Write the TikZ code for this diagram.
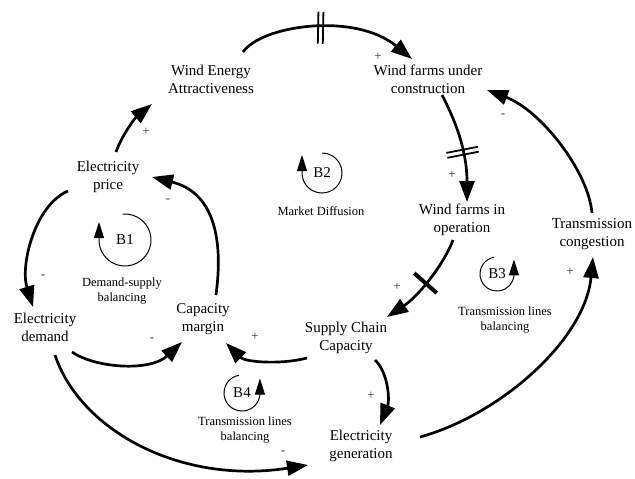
\documentclass[tikz,border=0pt]{standalone}
\usepackage{fontspec}
\setmainfont{Liberation Serif}
\usetikzlibrary{arrows.meta,calc,decorations.markings}

\begin{document}
\begin{tikzpicture}[x=1pt,y=-1pt,
    var/.style={align=center,inner sep=0pt,font=\fontsize{15}{18}\selectfont},
    note/.style={align=center,inner sep=0pt,font=\fontsize{12.5}{15}\selectfont},
    sign/.style={inner sep=0pt,text=black!80,font=\fontsize{13}{13}\selectfont},
    causal/.style={line width=2.7pt,-{Triangle[length=21pt,width=15pt]}},
    cyc/.style={line width=1pt,-{Triangle[length=16pt,width=10pt]}},
    delay/.style={postaction={decorate,decoration={markings,
      mark=at position #1 with {\draw[-,line width=1.8pt] (-2.5,-16) -- (-2.5,16) (2.5,-16) -- (2.5,16);}}}},
    gate/.style={postaction={decorate,decoration={markings,
      mark=at position #1 with {\draw[-,line width=4pt] (0,-15) -- (0,15);}}}}]
    \useasboundingbox (0,0) rectangle (635,479);

    \path (211,79)  node [var] (wea)  {Wind Energy\\Attractiveness};
    \path (428,79)  node [var] (wfuc) {Wind farms under\\construction};
    \path (462,220) node [var] (wfio) {Wind farms in\\operation};
    \path (592,234) node [var] (tc)   {Transmission\\congestion};
    \path (108,177) node [var] (ep)   {Electricity\\price};
    \path (45,327)  node [var] (ed)   {Electricity\\demand};
    \path (203,319) node [var] (cm)   {Capacity\\margin};
    \path (346,338) node [var] (scc)  {Supply Chain\\Capacity};
    \path (361,446) node [var] (eg)   {Electricity\\generation};

    \path (125,240) node [var] (b1) {B1};
    \path (322,173) node [var] (b2) {B2};
    \path (497,274) node [var] (b3) {B3};
    \path (242,393) node [var] (b4) {B4};
    \path (122,291) node [note] (n1) {Demand-supply\\balancing};
    \path (321,211) node [note] (n2) {Market Diffusion};
    \path (505,320) node [note] (n3) {Transmission lines\\balancing};
    \path (245,430) node [note] (n4) {Transmission lines\\balancing};

    \draw [cyc] ($(b1)+(265:26)$) arc [start angle=265,end angle=540,radius=26] -- ++(0,-18);
    \draw [cyc] ($(b2)+(270:20)$) arc [start angle=270,end angle=540,radius=20] -- ++(0,-18);
    \draw [cyc] ($(b3)+(260:17)$) arc [start angle=260,end angle=5,radius=17] -- ++(0,-16);
    \draw [cyc] ($(b4)+(260:18)$) arc [start angle=260,end angle=5,radius=18] -- ++(0,-16);

    \draw [causal,delay=0.46] ($(wea)+(32,-27)$) .. controls +(19,-27) and +(-57,-47) .. ($(wfuc)+(-16,-20)$)
     node [sign] at (378,57) {+};
    \draw [causal,delay=0.55] ($(wfuc)+(14,16)$) .. controls +(13,25) and +(0,-52) .. ($(wfio)+(5,-18)$)
     node [sign] at (452,175) {+};
    \draw [causal,gate=0.5] ($(wfio)+(-9,20)$) .. controls +(-8,22) and +(33,-22) .. ($(scc)+(41,-21)$)
     node [sign] at (397,287) {+};
    \draw [causal] ($(tc)+(0,-21)$) .. controls +(-4,-43) and +(53,20) .. ($(wfuc)+(59,11)$)
     node [sign] at (503,116) {-};
    \draw [causal] ($(eg)+(59,-9)$) .. controls +(80,-22) and +(-8,83) .. ($(tc)+(1,23)$)
     node [sign] at (570,272) {+};
    \draw [causal] ($(scc)+(29,22)$) .. controls +(13,12) and +(10,-25) .. ($(eg)+(19,-21)$)
     node [sign] at (371,396) {+};
    \draw [causal] ($(scc)+(-39,20)$) .. controls +(-27,7) and +(19,19) .. ($(cm)+(23,24)$)
     node [sign] at (255,337) {+};
    \draw [causal] ($(ed)+(27,25)$) .. controls +(23,16) and +(-32,30) .. ($(cm)+(-21,23)$)
     node [sign] at (152,340) {-};
    \draw [causal] ($(ed)+(10,28)$) .. controls +(25,75) and +(-128,20) .. ($(eg)+(-53,19)$)
     node [sign] at (283,453) {-};
    \draw [causal] ($(cm)+(13,-24)$) .. controls +(8,-60) and +(60,15) .. ($(ep)+(44,0)$)
     node [sign] at (168,201) {-};
    \draw [causal] ($(ep)+(-40,14)$) .. controls +(-33,14) and +(-13,-42) .. ($(ed)+(-12,-20)$)
     node [sign] at (43,277) {-};
    \draw [causal] ($(ep)+(8,-25)$) .. controls +(6,-17) and +(-17,14) .. ($(wea)+(-59,25)$)
     node [sign] at (146,132) {+};
\end{tikzpicture}
\end{document}
